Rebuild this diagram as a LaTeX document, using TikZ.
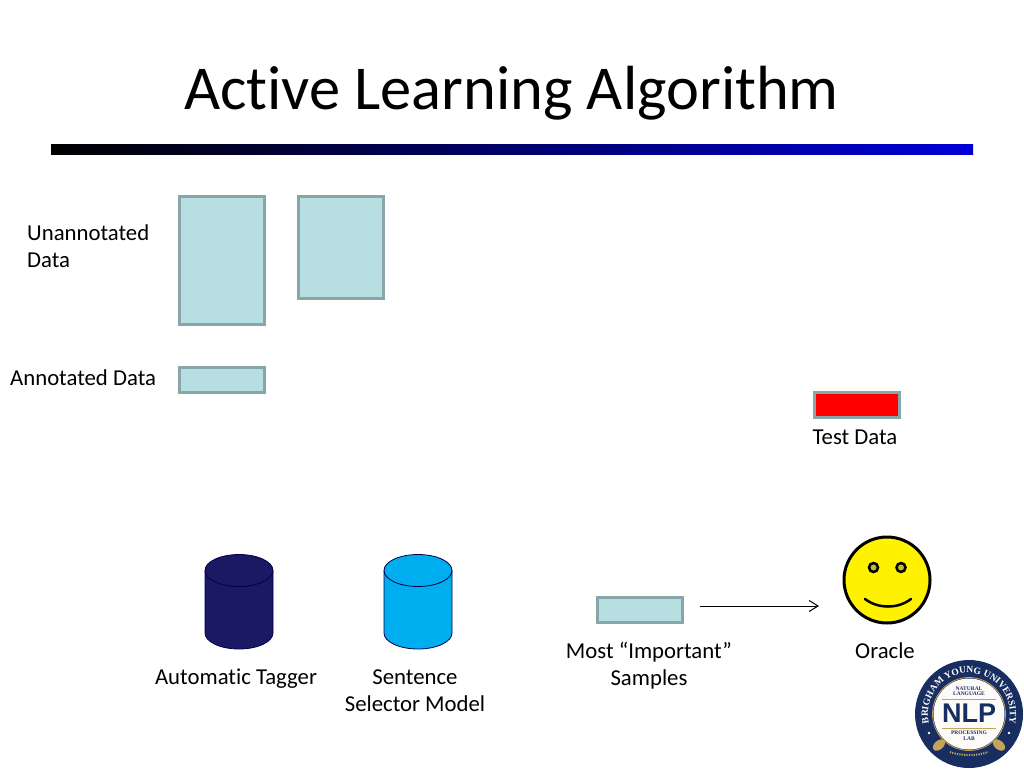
\documentclass[tikz,border=0pt]{standalone}
\usepackage{fontspec}
\setmainfont{Carlito}[Ligatures=NoCommon]
\newfontfamily\logofont{Liberation Serif}
\newfontfamily\logosans{Liberation Sans}
\usetikzlibrary{arrows.meta, positioning, shapes.geometric, decorations.text}
\definecolor{BoxFill}{RGB}{183,222,225}
\definecolor{BoxEdge}{RGB}{136,165,170}
\definecolor{TaggerBlue}{RGB}{25,25,100}
\definecolor{SelectorBlue}{RGB}{0,174,239}
\definecolor{RuleBlue}{RGB}{0,0,214}
\definecolor{EyeOlive}{RGB}{190,190,30}
\definecolor{LogoNavy}{RGB}{24,46,96}
\definecolor{LogoGold}{RGB}{196,164,90}
\tikzset{
  data box/.style={draw=BoxEdge,line width=3,fill=BoxFill,minimum width=85,inner sep=0},
  test box/.style={data box,fill=red},
  label/.style={font=\fontsize{22.75}{27}\selectfont,inner sep=0,align=center},
  drum/.style={draw=black!70!blue,line width=0.8},
  connect arrow/.style={-{Straight Barb[length=9,width=11]},line width=1}
}
\begin{document}
\begin{tikzpicture}[x=1pt,y=-1pt]
  \useasboundingbox (0,0) rectangle (1024,768);
  % Title and rule
  \node[inner sep=0,font=\fontsize{62.4}{70}\selectfont] (title) at (511.5,93) {Active Learning Algorithm};
  \shade[left color=black,right color=RuleBlue] (51,144) rectangle (973,154);
  % Data boxes
  \node[data box,minimum height=128] (unannotated a) at (222,260) {};
  \node[data box,minimum height=102] (unannotated b) at (341,247) {};
  \node[data box,minimum height=25] (annotated) at (222,379.5) {};
  \node[test box,minimum height=25] (test) at (857,405) {};
  \node[data box,minimum height=25] (samples) at (640,610) {};
  \node[label,align=left,anchor=west] (unannotated text) at (27,246.5) {Unannotated\\Data};
  \node[label,anchor=west] (annotated text) at (10,378) {Annotated Data};
  \node[label] (test text) at (855,437) {Test Data};
  % Models
  \foreach \drumx/\drumcolor in {239/TaggerBlue,418/SelectorBlue}{
    \draw[drum,fill=\drumcolor] (\drumx-34,570.5) -- (\drumx-34,633)
      arc[start angle=180,end angle=0,x radius=34,y radius=16] -- (\drumx+34,570.5)
      arc[start angle=0,end angle=-180,x radius=34,y radius=16] -- cycle;
    \draw[drum] (\drumx-34,570.5) arc[start angle=180,end angle=0,x radius=34,y radius=16];
  }
  \node[label] (tagger text) at (236,678.5) {Automatic Tagger};
  \node[label] (selector text) at (415,690.5) {Sentence\\Selector Model};
  \node[label] (samples text) at (649,665.5) {Most “Important”\\Samples};
  % Oracle
  \node[circle,draw=black,line width=3,fill=yellow,minimum size=86,inner sep=0] (oracle) at (887,580) {};
  \node[circle,draw=black,line width=2.5,fill=EyeOlive,minimum size=9,inner sep=0] (eye left) at (873.5,567.5) {};
  \node[circle,draw=black,line width=2.5,fill=EyeOlive,minimum size=9,inner sep=0] (eye right) at (901,567.5) {};
  \draw[line width=2.5,line cap=round] (865,599) .. controls (878,609) and (898,609) .. (911,599);
  \node[label] (oracle text) at (885,651) {Oracle};
  \coordinate (arrow start) at (700,606);
  \coordinate (arrow end) at (819,606);
  \draw[connect arrow] (arrow start) -- (arrow end);
  % Logo
  \fill[white] (969,714) circle (56);
  \fill[LogoNavy] (969,714) circle (54);
  \draw[LogoGold,line width=0.8] (969,714) circle (36.5);
  \fill[white!96!LogoGold] (969,714) circle (35.5);
  \path[decorate,decoration={text along path,text align=center,
    text={|\logofont\fontsize{9.5}{9.5}\bfseries\color{white}|BRIGHAM YOUNG UNIVERSITY}}]
    (969,714) ++(170:41) arc[start angle=170,end angle=370,radius=41];
  \fill[white] (929,733) circle (1.3) (1009,733) circle (1.3);
  \node[inner sep=0,font=\logofont\fontsize{5.5}{5.5}\selectfont\bfseries,text=LogoNavy,align=center] (logo top) at (969,691) {NATURAL\\LANGUAGE};
  \draw[LogoGold,line width=0.6] (942,699.5) -- (996,699.5) (942,728) -- (996,728);
  \node[inner sep=0,font=\logosans\fontsize{27}{27}\selectfont\bfseries,text=LogoNavy] (logo nlp) at (969,713.5) {NLP};
  \node[inner sep=0,font=\logofont\fontsize{5.5}{5.5}\selectfont\bfseries,text=LogoNavy,align=center] (logo bottom) at (969,735.5) {PROCESSING\\LAB};
  \fill[LogoGold,rotate around={40:(939,745)}] (939,745) ellipse (7 and 4.5);
  \fill[LogoGold,rotate around={-40:(999,745)}] (999,745) ellipse (7 and 4.5);
  \draw[LogoGold,line width=2,dash pattern=on 1.2 off 1.2] (950,752) .. controls (960,756) and (978,756) .. (988,752);
\end{tikzpicture}
\end{document}
